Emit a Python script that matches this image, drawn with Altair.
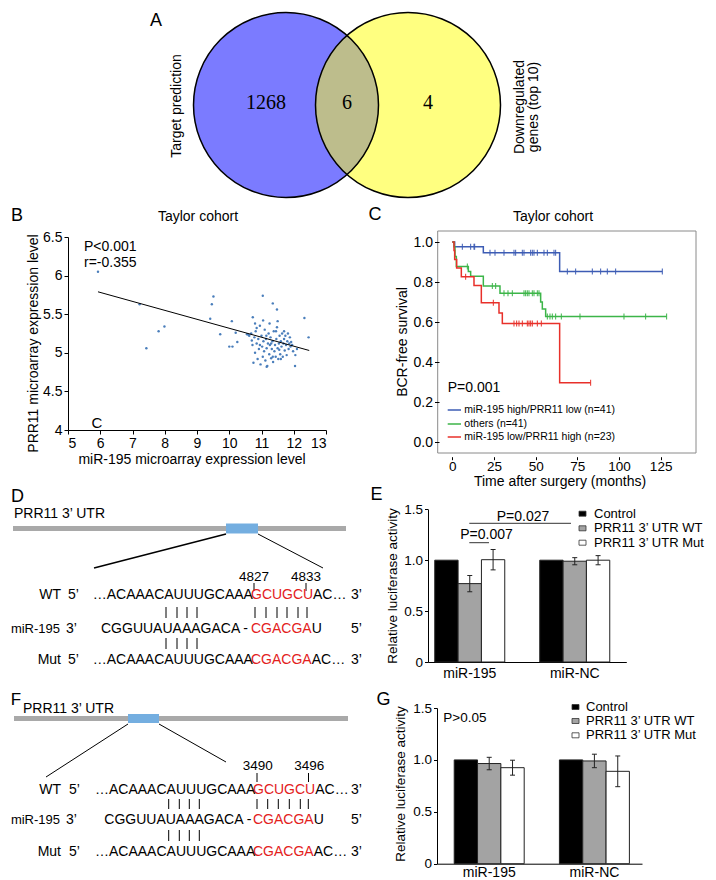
import math
import altair as alt
import pandas as pd

FONT = "Liberation Sans"
SERIF = "Liberation Serif"
RED = "#e3211c"

# ---------------- Panel A : Venn ----------------
venn_counts = ["1268", "6", "4"]
venn_fills = ["#7b7bff", "#ffff80"]
lens_fill = "#bdbd8c"

# ---------------- Panel B : scatter ----------------
mir195 = [5.93, 7.22, 7.43, 7.81, 7.99, 9.41, 9.46, 9.51, 9.72, 10.08, 10.0, 10.1, 10.2, 10.25,
          11.04, 11.35, 11.48, 11.5, 12.33, 12.46, 10.73, 10.8, 12.04, 11.16, 10.6,
          10.55, 10.62, 10.68, 10.72, 10.75, 10.78, 10.80, 10.82, 10.85, 10.88,
          10.90, 10.92, 10.95, 10.97, 11.00, 11.02, 11.04, 11.06, 11.08, 11.10,
          11.12, 11.14, 11.16, 11.18, 11.20, 11.22, 11.24, 11.26, 11.28, 11.30,
          11.32, 11.34, 11.36, 11.38, 11.40, 11.42, 11.44, 11.46, 11.48, 11.50,
          11.52, 11.54, 11.56, 11.58, 11.60, 11.62, 11.64, 11.66, 11.68, 11.70,
          11.72, 11.74, 11.76, 11.78, 11.80, 11.82, 11.84, 11.86, 11.88, 11.90,
          11.92, 11.95, 11.98, 12.05, 12.10, 11.15, 11.25, 11.45, 11.05, 10.85,
          11.60, 11.35, 10.95, 11.70, 11.55, 10.70, 11.30]
prr11 = [6.05, 5.63, 5.06, 5.28, 5.34, 5.44, 5.63, 5.73, 5.24, 5.41, 5.08, 5.08, 5.26, 5.14,
         5.74, 5.64, 5.56, 5.41, 5.45, 5.20, 5.46, 5.38, 4.83, 4.82, 5.23,
         5.24, 5.22, 5.25, 5.10, 4.87, 5.20, 5.00, 5.28, 5.12, 4.92,
         5.18, 5.05, 5.35, 4.85, 5.22, 5.08, 4.95, 5.15, 5.02, 5.30,
         4.90, 5.18, 5.06, 4.83, 5.12, 5.25, 4.98, 5.10, 5.20, 4.93,
         5.05, 5.15, 4.88, 5.28, 5.02, 5.10, 4.95, 5.18, 5.33, 5.06,
         4.92, 5.12, 5.22, 4.98, 5.15, 5.08, 5.25, 4.95, 5.12, 5.18,
         5.03, 5.22, 5.10, 4.97, 5.15, 5.25, 5.05, 5.12, 5.20, 5.08,
         5.14, 5.10, 5.02, 4.97, 5.05, 5.22, 5.38, 5.28, 5.42, 5.32,
         4.92, 4.95, 5.10, 5.28, 5.04, 5.16, 5.12]
fit_mir = [5.93, 12.48]
fit_prr = [5.79, 5.03]

# ---------------- Panel C : Kaplan-Meier ----------------
km_groups = ["miR-195 high/PRR11 low (n=41)", "others (n=41)", "miR-195 low/PRR11 high (n=23)"]
km_colors = ["#3d5cb4", "#3cb549", "#e8302a"]
blue_t = [0, 1.4, 18.6, 64.4, 126]
blue_s = [1.0, 0.976, 0.946, 0.852, 0.852]
blue_cens = [6, 11, 13, 13.4, 22.6, 25.6, 31, 37, 38, 42, 43, 47, 48, 49, 51, 55, 57, 61, 62,
             69, 74, 84, 89, 93, 98, 126]
green_t = [0, 1, 1.6, 2.4, 9.6, 11, 18.6, 28.6, 53, 54, 56, 128.6]
green_s = [1.0, 0.976, 0.927, 0.878, 0.853, 0.829, 0.78, 0.744, 0.70, 0.665, 0.628, 0.628]
green_cens = [9, 24, 26, 31, 33.4, 36, 43, 44, 45, 46, 48, 49, 51, 52, 57, 58.6, 60, 62, 65.4,
              76.6, 103, 116, 128.6]
red_t = [0, 1, 1.4, 2.6, 5.4, 13, 17.4, 28, 30, 64.4, 83]
red_s = [1.0, 0.957, 0.913, 0.87, 0.826, 0.783, 0.696, 0.645, 0.593, 0.296, 0.296]
red_cens = [8, 24.6, 37, 38.6, 40, 42, 45, 46, 47, 48, 51, 53.4, 83]

# ---------------- Panels E / G : luciferase ----------------
lucif_groups = ["miR-195", "miR-NC"]
lucif_series = ["Control", "PRR11 3\u2019 UTR WT", "PRR11 3\u2019 UTR Mut"]
lucif_fills = ["#000000", "#a3a3a3", "#ffffff"]
e_vals = [[1.0, 0.77, 1.005], [1.0, 0.99, 1.0]]
e_errs = [[0.0, 0.08, 0.10], [0.0, 0.035, 0.045]]
g_vals = [[1.0, 0.965, 0.925], [1.0, 0.99, 0.89]]
g_errs = [[0.0, 0.06, 0.072], [0.0, 0.065, 0.148]]

# ---------------- sequences (D / F) ----------------
utr_seq = "\u2026ACAAACAUUUGCAAA"
wt_site = "GCUGCU"
mut_site = "CGACGA"
mir_seq = "CGGUUAUAAAGACA -"
mir_seed = "CGACGA"

# =====================================================================
# Layout: one flush hconcat whose cells start at each panel's y-axis.
PXS = alt.Scale(domain=[8, 708], range=[0, 700], nice=False, zero=False)
PYS = alt.Scale(domain=[8, 872], range=[0, 864], nice=False, zero=False)


def PX(f):
    return alt.X(f, type="quantitative", scale=PXS, axis=None)


def PY(f):
    return alt.Y(f, type="quantitative", scale=PYS, axis=None)


page = []

# --- Venn diagram (Vega circle symbol: diameter = sqrt(size))
C1, C2, CY, R = 285, 407, 104, 92.5
circ_size = (2 * R) ** 2
venn_df = pd.DataFrame({"x": [C1, C2], "y": [CY, CY], "c": venn_fills})
page.append(alt.Chart(venn_df).mark_circle(size=circ_size, opacity=1, strokeWidth=0).encode(
    x=PX("x"), y=PY("y"), fill=alt.Fill("c:N", scale=None)))
lens_x, lens_y, lens_y2 = [], [], []
xa, xb = C2 - R, C1 + R
n_seg = 64
for i in range(n_seg + 1):
    xx = xa + (xb - xa) * i / n_seg
    hh = min(math.sqrt(max(R * R - (xx - C1) ** 2, 0)), math.sqrt(max(R * R - (xx - C2) ** 2, 0)))
    lens_x.append(xx)
    lens_y.append(CY - hh)
    lens_y2.append(CY + hh)
page.append(alt.Chart(pd.DataFrame({"x": lens_x, "y": lens_y, "y2": lens_y2})).mark_area(
    color=lens_fill, opacity=1).encode(x=PX("x"), y=PY("y"), y2="y2:Q"))
page.append(alt.Chart(venn_df).mark_point(shape="circle", size=circ_size, filled=False, opacity=1,
                                          stroke="black", strokeWidth=1.5).encode(x=PX("x"), y=PY("y")))

# --- rectangles
rects = [
    (12, 345, 525, 530, "#a9a9a9", "transparent"),
    (225, 257, 522.5, 532.5, "#74aee0", "transparent"),
    (13, 347, 715, 720, "#a9a9a9", "transparent"),
    (127, 158, 713, 722, "#74aee0", "transparent"),
]
for i, yy in enumerate([512.7, 527.3, 541.7]):
    rects.append((578, 585, yy - 2.5, yy + 2.5, lucif_fills[i], "#333333"))
for i, yy in enumerate([706, 720, 734.3]):
    rects.append((571, 578, yy - 2.5, yy + 2.5, lucif_fills[i], "#333333"))
rect_df = pd.DataFrame(rects, columns=["x", "x2", "y", "y2", "f", "s"])
page.append(alt.Chart(rect_df).mark_rect(strokeWidth=0.8).encode(
    x=PX("x"), x2="x2:Q", y=PY("y"), y2="y2:Q",
    fill=alt.Fill("f:N", scale=None), stroke=alt.Stroke("s:N", scale=None)))

page.append(alt.Chart(pd.DataFrame({"x": [436.7], "x2": [695], "y": [230], "y2": [452]})).mark_rect(
    filled=False, stroke="#8a8a8a", strokeWidth=1).encode(x=PX("x"), x2="x2:Q", y=PY("y"), y2="y2:Q"))

# --- rules
rules = [
    (225, 93, 533, 567, "black", 1.5),
    (257, 322, 533, 567, "black", 1),
    (127, 45, 723, 776, "black", 1),
    (158, 225, 723, 761, "black", 1),
    (253, 253, 582, 590, "black", 1),
    (305, 305, 582, 590, "black", 1),
    (256, 256, 772, 781, "black", 1),
    (307.5, 307.5, 772, 781, "black", 1),
    (468.3, 488, 541.7, 541.7, "#333333", 1),
    (468.3, 570, 522.3, 522.3, "#333333", 1),
]
for xx in [165, 176, 186, 196]:
    rules += [(xx, xx, 606, 617, "black", 1), (xx, xx, 637, 648, "black", 1)]
for xx in [254, 265, 276, 286, 297, 306]:
    rules += [(xx, xx, 606, 617, "black", 1)]
for xx in [167.7, 178.3, 188.3, 198.3]:
    rules += [(xx, xx, 798, 808, "black", 1), (xx, xx, 829, 840, "black", 1)]
for xx in [256, 266.7, 277.3, 288.3, 299.3, 307.3]:
    rules += [(xx, xx, 798, 808, "black", 1)]
for yy, col in zip([409, 423, 436], km_colors):
    rules.append((446.7, 460, yy, yy, col, 1.5))
rule_df = pd.DataFrame(rules, columns=["x", "x2", "y", "y2", "c", "w"])
page.append(alt.Chart(rule_df).mark_rule().encode(
    x=PX("x"), x2="x2:Q", y=PY("y"), y2="y2:Q",
    color=alt.Color("c:N", scale=None), strokeWidth=alt.StrokeWidth("w:Q", scale=None)))


def text_layer(rows, align, font=FONT):
    df = pd.DataFrame(rows, columns=["t", "x", "y", "s", "c", "a"])
    return alt.Chart(df).mark_text(align=align, baseline="middle", font=font).encode(
        x=PX("x"), y=PY("y"), text="t:N",
        size=alt.Size("s:Q", scale=None), color=alt.Color("c:N", scale=None),
        angle=alt.Angle("a:Q", scale=None))


B = "black"
center_rows = [
    ("A", 155, 19.5, 18, B, 0), ("B", 16, 214.5, 18, B, 0), ("C", 374, 214, 18, B, 0),
    ("D", 16.5, 495.5, 18, B, 0), ("E", 375.5, 493.5, 18, B, 0), ("F", 15, 698.5, 17, B, 0),
    ("G", 382.5, 698.5, 18, B, 0),
    ("Taylor cohort", 197, 216, 14, B, 0), ("Taylor cohort", 552, 216, 14, B, 0),
    ("miR-195 microarray expression level", 191, 459, 14, B, 0),
    ("Time after surgery (months)", 559, 481, 14, B, 0),
    ("C", 96, 422, 15, B, 0),
    ("P=0.007", 485.5, 534.3, 14, B, 0), ("P=0.027", 522, 516, 14, B, 0),
    ("4827", 253, 576, 13.5, B, 0), ("4833", 305, 576, 13.5, B, 0),
    ("3490", 256.7, 765, 13.5, B, 0), ("3496", 308.3, 765, 13.5, B, 0),
    ("Target prediction", 175.5, 105, 14, B, 270),
    ("Downregulated", 519, 106, 14, B, 270), ("genes (top 10)", 533, 106, 14, B, 270),
    ("PRR11 microarray expression level", 33.3, 342.5, 14, B, 270),
    ("BCR-free survival", 401.7, 341, 14, B, 270),
    ("Relative luciferase activity", 391.7, 585, 13.5, B, 270),
    ("Relative luciferase activity", 400, 783, 13.5, B, 270),
]
left_rows = [
    ("P<0.001", 83, 246, 14, B, 0), ("r=-0.355", 83, 262, 14, B, 0),
    ("P=0.001", 446.7, 386.7, 14, B, 0),
    ("PRR11 3\u2019 UTR", 13, 513, 14, B, 0), ("PRR11 3\u2019 UTR", 22, 707.5, 14, B, 0),
    ("P>0.05", 442.3, 716.7, 13.5, B, 0),
]
for g, yy in zip(km_groups, [409, 423, 436]):
    left_rows.append((g, 463.3, yy, 10.5, B, 0))
for s, yy in zip(lucif_series, [512.7, 527.3, 541.7]):
    left_rows.append((s, 593, yy, 13, B, 0))
for s, yy in zip(lucif_series, [706, 720, 734.3]):
    left_rows.append((s, 585, yy, 13, B, 0))
for (yy, l5, r5) in [(594, "5\u2019", "3\u2019"), (628, "3\u2019", "5\u2019"), (659, "5\u2019", "3\u2019")]:
    left_rows.append((l5, 67 if l5 == "5\u2019" else 65, yy, 14, B, 0))
    left_rows.append((r5, 350, yy, 14, B, 0))
left_rows += [
    (utr_seq, 91.7, 594, 14, B, 0), (wt_site, 250, 594, 14, RED, 0), ("AC\u2026", 312, 594, 14, B, 0),
    (mir_seq, 100, 628, 14, B, 0), (mir_seed, 250, 628, 14, RED, 0), ("U", 310.7, 628, 14, B, 0),
    (utr_seq, 91.7, 659, 14, B, 0), (mut_site, 250, 659, 14, RED, 0), ("AC\u2026", 310.7, 659, 14, B, 0),
]
for (yy, l5, r5) in [(789.3, "5\u2019", "3\u2019"), (819.3, "3\u2019", "5\u2019"), (850.7, "5\u2019", "3\u2019")]:
    left_rows.append((l5, 68 if l5 == "5\u2019" else 65, yy, 14, B, 0))
    left_rows.append((r5, 350, yy, 14, B, 0))
left_rows += [
    (utr_seq, 94, 789.3, 14, B, 0), (wt_site, 252, 789.3, 14, RED, 0), ("AC\u2026", 314.2, 789.3, 14, B, 0),
    (mir_seq, 103.3, 819.3, 14, B, 0), (mir_seed, 252, 819.3, 14, RED, 0), ("U", 312.7, 819.3, 14, B, 0),
    (utr_seq, 94, 850.7, 14, B, 0), (mut_site, 252, 850.7, 14, RED, 0), ("AC\u2026", 312.7, 850.7, 14, B, 0),
]
right_rows = [
    ("WT", 60, 594, 14, B, 0), ("miR-195", 59, 628, 13, B, 0), ("Mut", 60, 659, 14, B, 0),
    ("WT", 60, 789.3, 14, B, 0), ("miR-195", 59, 819.3, 13, B, 0), ("Mut", 60, 850.7, 14, B, 0),
]
serif_rows = [(venn_counts[0], 265, 102, 20, B, 0), (venn_counts[1], 346, 102, 20, B, 0),
              (venn_counts[2], 427, 102, 20, B, 0)]
page.append(text_layer(center_rows, "center"))
page.append(text_layer(left_rows, "left"))
page.append(text_layer(right_rows, "right"))
page.append(text_layer(serif_rows, "center", SERIF))

page_cell = alt.layer(*page).properties(width=59, height=864)

# =====================================================================
# Panel B cell: starts at its y-axis (page x 67); bottom = x-axis (page y 429)
bxs = alt.Scale(domain=[5, 13], range=[0, 258], nice=False, zero=False)
bys = alt.Scale(domain=[4, 6.5], range=[421, 228], nice=False, zero=False)
bx_axis = alt.Axis(values=list(range(5, 14)), format="d", title=None, tickSize=4, labelPadding=2,
                   labelFontSize=14)
by_axis = alt.Axis(values=[4, 4.5, 5, 5.5, 6, 6.5], format="~g", title=None, tickSize=4, labelPadding=2,
                   labelFontSize=14)
b_pts = alt.Chart(pd.DataFrame({"m": mir195, "p": prr11})).mark_circle(
    size=6, color="#4a7ebb", opacity=1).encode(
    x=alt.X("m:Q", scale=bxs, axis=bx_axis), y=alt.Y("p:Q", scale=bys, axis=by_axis))
b_fit = alt.Chart(pd.DataFrame({"m": fit_mir, "p": fit_prr})).mark_line(color="black", strokeWidth=1).encode(
    x=alt.X("m:Q", scale=bxs, axis=bx_axis), y=alt.Y("p:Q", scale=bys, axis=by_axis))
b_cell = alt.layer(b_pts, b_fit).properties(width=359.7, height=421)


# Panel C cell: starts at page x 436.7; bottom axis at page y 455.7
def step_at(ts, ss, t):
    v = ss[0]
    for ti, si in zip(ts, ss):
        if ti <= t:
            v = si
    return v


km_rows, cens_rows = [], []
for g, ts, ss, cs in zip(km_groups, [blue_t, green_t, red_t], [blue_s, green_s, red_s],
                         [blue_cens, green_cens, red_cens]):
    km_rows += [(g, t, s) for t, s in zip(ts, ss)]
    cens_rows += [(g, t, step_at(ts, ss, t)) for t in cs]
km_df = pd.DataFrame(km_rows, columns=["g", "t", "s"])
cens_df = pd.DataFrame(cens_rows, columns=["g", "t", "s"])
cxs = alt.Scale(domain=[-8, 147], range=[0, 258.3], nice=False, zero=False)
cys = alt.Scale(domain=[-0.055, 1.055], range=[444, 222], nice=False, zero=False)
cx_axis = alt.Axis(values=[0, 25, 50, 75, 100, 125], format="d", title=None, domain=False, tickSize=3,
                   labelPadding=0, labelFontSize=13.5)
cy_axis = alt.Axis(values=[0, 0.2, 0.4, 0.6, 0.8, 1.0], format=".1f", title=None, domain=False,
                   tickSize=4.5, labelPadding=2, labelFontSize=14)
kcol = alt.Color("g:N", scale=alt.Scale(domain=km_groups, range=km_colors), legend=None)
c_lines = alt.Chart(km_df).mark_line(interpolate="step-after", strokeWidth=1.5).encode(
    x=alt.X("t:Q", scale=cxs, axis=cx_axis), y=alt.Y("s:Q", scale=cys, axis=cy_axis),
    color=kcol, detail="g:N")
c_cens = alt.Chart(cens_df).mark_tick(orient="vertical", size=6, thickness=1, opacity=1).encode(
    x=alt.X("t:Q", scale=cxs, axis=cx_axis), y=alt.Y("s:Q", scale=cys, axis=cy_axis), color=kcol)
c_cell = alt.layer(c_lines, c_cens).properties(width=258.3, height=447.7)


def lucif_cell(vals, errs, xlen, po, align, yrange, lab_pad, cell_w, cell_h):
    rows = []
    for gi, g in enumerate(lucif_groups):
        for si, s in enumerate(lucif_series):
            v, e = vals[gi][si], errs[gi][si]
            rows.append(dict(g=g, s=s, v=v, e=e, lo=v - e, hi=v + e))
    df = pd.DataFrame(rows)
    edf = df[df["e"] > 0]
    xs = alt.Scale(domain=lucif_groups, range=[0, xlen], paddingInner=1 / 3, paddingOuter=po, align=align)
    ys = alt.Scale(domain=[0, 1.5], range=yrange, nice=False, zero=False)
    os_ = alt.Scale(domain=lucif_series, paddingInner=0, paddingOuter=0)
    x_axis = alt.Axis(title=None, labelAngle=0, ticks=False, labelPadding=lab_pad, labelFontSize=14)
    y_axis = alt.Axis(title=None, values=[0, 0.5, 1.0, 1.5],
                      labelExpr="datum.value == 0 ? '0' : format(datum.value, '.1f')",
                      tickSize=3.5, labelPadding=2, labelFontSize=13.5)
    xo = alt.XOffset("s:N", scale=os_, sort=lucif_series)
    xenc = alt.X("g:N", scale=xs, sort=lucif_groups, axis=x_axis)
    bars = alt.Chart(df).mark_bar(stroke="#222222", strokeWidth=1).encode(
        x=xenc, xOffset=xo, y=alt.Y("v:Q", scale=ys, axis=y_axis),
        fill=alt.Fill("s:N", scale=alt.Scale(domain=lucif_series, range=lucif_fills), legend=None))
    err = alt.Chart(edf).mark_rule(color="#222222", strokeWidth=1).encode(
        x=xenc, xOffset=xo, y=alt.Y("lo:Q", scale=ys, axis=y_axis), y2="hi:Q")
    cap_hi = alt.Chart(edf).mark_tick(orient="horizontal", size=5, thickness=1, color="#222222", opacity=1).encode(
        x=xenc, xOffset=xo, y=alt.Y("hi:Q", scale=ys, axis=y_axis))
    cap_lo = alt.Chart(edf).mark_tick(orient="horizontal", size=5, thickness=1, color="#222222", opacity=1).encode(
        x=xenc, xOffset=xo, y=alt.Y("lo:Q", scale=ys, axis=y_axis))
    return alt.layer(bars, err, cap_hi, cap_lo).properties(width=cell_w, height=cell_h)


# E cell starts at page x 426.7, G cell at page x 435 (their scales extend past the cell)
e_cell = lucif_cell(e_vals, e_errs, 198.3, 0.111, 0.29, [653, 500.3], 4, 8.3, 653)
g_cell = lucif_cell(g_vals, g_errs, 205, 0.141, 0.58, [854.7, 699], 2, 1.7, 854.7)

chart = alt.hconcat(page_cell, b_cell, e_cell, g_cell, c_cell, spacing=0, bounds="flush").properties(
    padding=0
).configure_view(stroke="transparent").configure_axis(
    labelFont=FONT, labelColor="black", domainColor="black", tickColor="black", grid=False,
    domainWidth=1, tickWidth=1
).configure_text(font=FONT)

chart.save("out.html", embed_options={"renderer": "svg", "actions": False})
